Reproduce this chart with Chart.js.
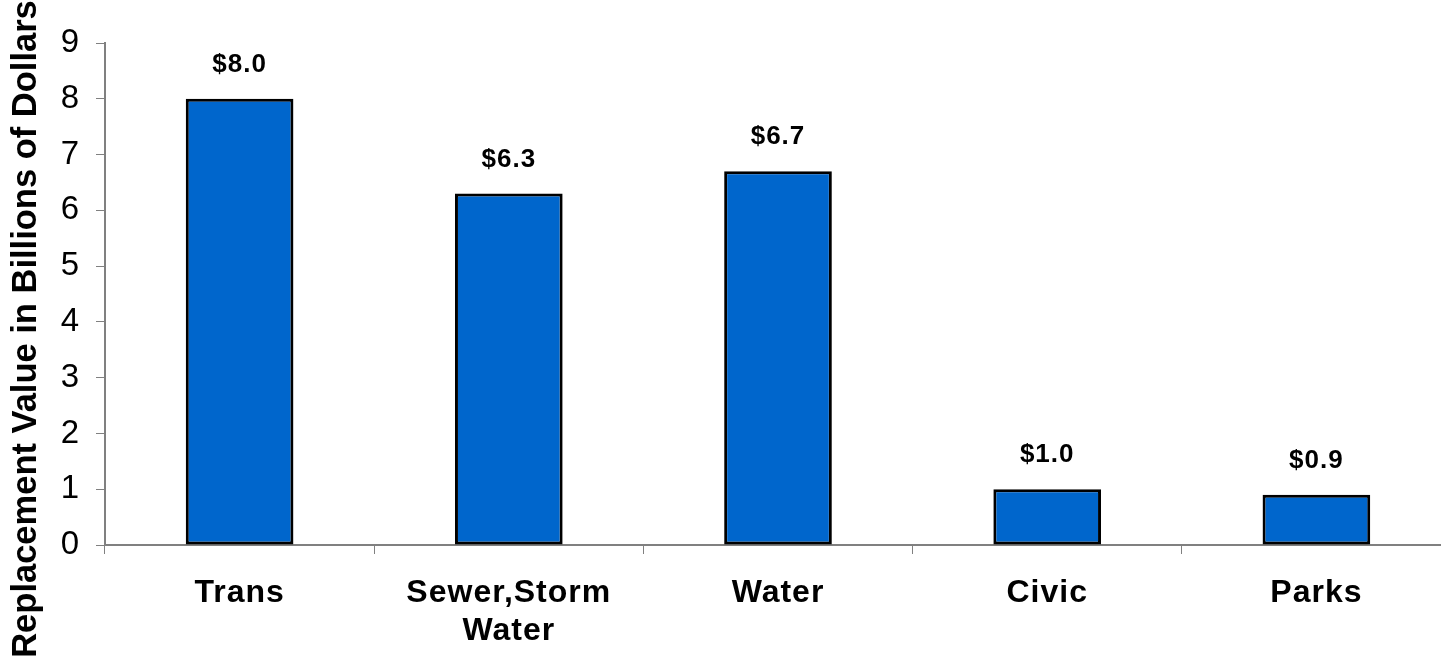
<!DOCTYPE html>
<html>
<head>
<meta charset="utf-8">
<script src="https://cdn.jsdelivr.net/npm/chart.js@4"></script>
<style>
    html, body { margin: 0; padding: 0; background: #fff; overflow: hidden; }
    #wrap { width: 1460px; height: 657px; }
</style>
</head>
<body>
<div id="wrap"><canvas id="valueChart" width="1460" height="657"></canvas></div>
<script>
// chart data
const categories = ['Trans', ['Sewer,Storm', 'Water'], 'Water', 'Civic', 'Parks'];
const replacementValues = [8.0, 6.3, 6.7, 1.0, 0.9];
const axisTitle = 'Replacement Value in Billions of Dollars';

const fontFamily = '"Liberation Sans", Arial, sans-serif';
const axisGray = '#808080';

// draws the "$x.x" labels above the bars
const valueLabels = {
    id: 'valueLabels',
    afterDatasetsDraw(chart) {
        const ctx = chart.ctx;
        const meta = chart.getDatasetMeta(0);
        ctx.save();
        ctx.font = 'bold 26px ' + fontFamily;
        ctx.fillStyle = '#000';
        ctx.textAlign = 'center';
        ctx.textBaseline = 'middle';
        meta.data.forEach((bar, i) => {
            ctx.fillText('$' + replacementValues[i].toFixed(1), bar.x, bar.y - 34);
        });
        ctx.restore();
    }
};

// rotated y axis title, centred on the full page height like the original
const sideTitle = {
    id: 'sideTitle',
    afterDraw(chart) {
        const ctx = chart.ctx;
        ctx.save();
        ctx.letterSpacing = '0px';
        ctx.translate(26, 329);
        ctx.rotate(-Math.PI / 2);
        ctx.font = 'bold 34.5px ' + fontFamily;
        ctx.fillStyle = '#000';
        ctx.textAlign = 'center';
        ctx.textBaseline = 'middle';
        ctx.fillText(axisTitle, 0, 0);
        ctx.restore();
    }
};

const spacing = {
    id: 'spacing',
    beforeDraw(chart) {
        chart.ctx.letterSpacing = '1px';
    }
};

const ctx = document.getElementById('valueChart').getContext('2d');
const valueChart = new Chart(ctx, {
    type: 'bar',
    data: {
        labels: categories,
        datasets: [{
            data: replacementValues,
            backgroundColor: '#0066CC',
            borderColor: '#000',
            borderWidth: 3,
            borderSkipped: false,
            barPercentage: 0.4,
            categoryPercentage: 1.0
        }]
    },
    options: {
        responsive: false,
        animation: false,
        layout: { padding: { top: 43, right: 9, left: 0, bottom: 0 } },
        plugins: {
            legend: { display: false },
            tooltip: { enabled: false }
        },
        scales: {
            x: {
                afterFit: scale => { scale.height = 112; },
                grid: {
                    offset: true,
                    drawOnChartArea: false,
                    tickLength: 9,
                    color: axisGray
                },
                border: { color: axisGray, width: 2 },
                ticks: {
                    maxRotation: 0,
                    autoSkip: false,
                    padding: 20,
                    color: '#000',
                    font: { family: fontFamily, size: 32, weight: 'bold', lineHeight: 1.2 }
                }
            },
            y: {
                min: 0,
                max: 9,
                afterFit: scale => { scale.width = 105; },
                grid: {
                    drawOnChartArea: false,
                    tickLength: 9,
                    color: axisGray
                },
                border: { color: axisGray, width: 2 },
                ticks: {
                    stepSize: 1,
                    padding: 16,
                    color: '#000',
                    font: { family: fontFamily, size: 33 }
                }
            }
        }
    },
    plugins: [spacing, valueLabels, sideTitle]
});
</script>
</body>
</html>
